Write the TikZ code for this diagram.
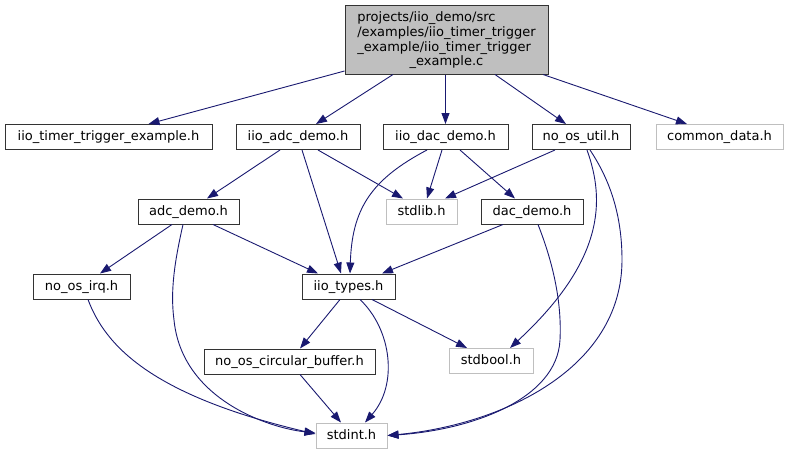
\documentclass[tikz,border=0pt]{standalone}
\usepackage{fontspec}
\setmainfont{DejaVu Sans}
\usetikzlibrary{arrows.meta}
\definecolor{edgeblue}{HTML}{191970}
\definecolor{greyl}{HTML}{BFBFBF}
\begin{document}
\begin{tikzpicture}[x=1pt,y=-1pt,
  every node/.style={font=\fontsize{13}{14.7}\selectfont},
  basebox/.style={draw=black!80, line width=1pt, fill=white, inner sep=0pt},
  file/.style={basebox, minimum height=25pt, text height=9.5pt, text depth=2.5pt},
  ext/.style={file, draw=greyl},
  dep/.style={draw=edgeblue, line width=0.9pt, -{Triangle[length=11pt,width=8pt]}}]
\useasboundingbox (0,0) rectangle (788,455);

\node[basebox, fill=greyl, minimum width=203pt, minimum height=69pt] (main) at (446.5,39.5)
  {\begin{tabular}{@{}l@{}}\rule{0pt}{13.3pt}projects/iio\_demo/src\\/examples/iio\_timer\_trigger\\\_example/iio\_timer\_trigger\\\multicolumn{1}{@{}c@{}}{\_example.c}\end{tabular}};

\node[file, minimum width=207pt] (tte) at (108.5,137) {iio\_timer\_trigger\_example.h};
\node[file, minimum width=124pt] (adc) at (298,137) {iio\_adc\_demo.h};
\node[file, minimum width=125pt] (dac) at (445.5,137) {iio\_dac\_demo.h};
\node[file, minimum width=98pt] (util) at (581,137) {no\_os\_util.h};
\node[ext, minimum width=127pt] (common) at (719.5,137) {common\_data.h};
\node[ext, minimum width=71pt] (stdlib) at (421.5,211.5) {stdlib.h};
\node[file, minimum width=102pt] (dacdemo) at (532,211.5) {dac\_demo.h};
\node[file, minimum width=101pt] (adcdemo) at (188.5,211.5) {adc\_demo.h};
\node[file, minimum width=97pt] (irq) at (81.5,286.5) {no\_os\_irq.h};
\node[file, minimum width=93pt] (types) at (348.5,286.5) {iio\_types.h};
\node[file, minimum width=171pt] (circ) at (289.5,361.5) {no\_os\_circular\_buffer.h};
\node[ext, minimum width=71pt] (stdint) at (351.5,435.5) {stdint.h};
\node[ext, minimum width=84pt] (stdbool) at (491,361) {stdbool.h};

\draw[dep] ([yshift=-31.5pt]main.west) -- ([xshift=40pt]tte.north);
\draw[dep] ([xshift=-53.5pt]main.south) -- ([xshift=18pt]adc.north);
\draw[dep] (dac.north |- main.south) -- (dac.north);
\draw[dep] ([xshift=48.5pt]main.south) -- ([xshift=-15pt]util.north);
\draw[dep] ([xshift=96.5pt]main.south) -- ([xshift=-32.5pt]common.north);

\draw[dep] ([xshift=-18pt]adc.south) -- ([xshift=18.5pt]adcdemo.north);
\draw[dep] ([xshift=4pt]adc.south) -- ([xshift=-7.5pt]types.north);
\draw[dep] ([xshift=20pt]adc.south) -- ([xshift=-18.5pt]stdlib.north);
\draw[dep] ([xshift=-3.5pt]dac.south) -- ([xshift=5.5pt]stdlib.north);
\draw[dep] ([xshift=-18.5pt]dac.south) .. controls (370,180) and (352,210) .. ([xshift=1.5pt]types.north);
\draw[dep] ([xshift=14.5pt]dac.south) -- ([xshift=-17pt]dacdemo.north);
\draw[dep] ([xshift=-26pt]util.south) -- ([xshift=23.5pt]stdlib.north);
\draw[dep] ([xshift=6pt]util.south) .. controls (605,200) and (605,260) .. ([xshift=19pt]stdbool.north);
\draw[dep] ([xshift=9pt]util.south) .. controls (610,180) and (622,215) .. (622,260) .. controls (622,370) and (500,425) .. (stdint.east);

\draw[dep] ([xshift=-16.5pt]adcdemo.south) -- ([xshift=18.5pt]irq.north);
\draw[dep] ([xshift=24.5pt]adcdemo.south) -- ([xshift=-30.5pt]types.north);
\draw[dep] ([xshift=-5.5pt]adcdemo.south) .. controls (175,260) and (170,290) .. (174,320) .. controls (182,400) and (270,428) .. ([yshift=2.5pt]stdint.west);
\draw[dep] ([xshift=-29pt]dacdemo.south) -- ([xshift=33.5pt]types.north);
\draw[dep] ([xshift=6pt]dacdemo.south) .. controls (552,260) and (562,300) .. (560,340) .. controls (557,400) and (470,430) .. (stdint.east);

\draw[dep] ([xshift=6.5pt]irq.south) .. controls (105,345) and (150,395) .. ([yshift=1.5pt]stdint.west);
\draw[dep] ([xshift=-8.5pt]types.south) -- ([xshift=10.5pt]circ.north);
\draw[dep] ([xshift=11.5pt]types.south) .. controls (392,330) and (398,385) .. ([xshift=13.5pt]stdint.north);
\draw[dep] ([xshift=23.5pt]types.south) -- ([xshift=-24pt]stdbool.north);
\draw[dep] ([xshift=10.5pt]circ.south) -- ([xshift=-10.5pt]stdint.north);
\end{tikzpicture}
\end{document}
